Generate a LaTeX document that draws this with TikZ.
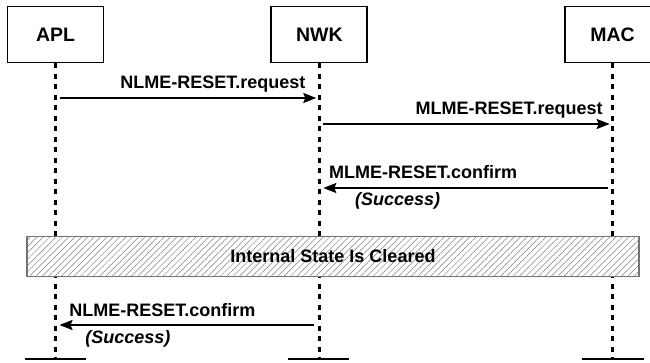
\documentclass[tikz,border=0pt]{standalone}
\usepackage{fontspec}
\setmainfont{Liberation Sans}
\usetikzlibrary{arrows.meta,positioning,patterns.meta}

\begin{document}
\begin{tikzpicture}[x=1pt,y=-1pt,
  node distance=166pt,
  layer/.style={draw,line width=1.8pt,minimum width=96pt,minimum height=56pt,
                inner sep=0pt,font=\bfseries\fontsize{19.5}{22}\selectfont},
  life/.style={line width=2.4pt,dash pattern=on 5pt off 5.5pt},
  msg/.style={line width=1.8pt,-{Stealth[length=13pt,width=10pt,inset=2pt]}},
  lab/.style={font=\bfseries\fontsize{18}{21}\selectfont,inner sep=0pt},
  res/.style={font=\bfseries\itshape\fontsize{18}{21}\selectfont,inner sep=0pt},
  cleared/.style={draw=black!55,line width=1.2pt,preaction={fill=white},
                  pattern={Lines[angle=45,distance=4.5pt,line width=0.5pt]},
                  pattern color=black!50,minimum width=612pt,minimum height=40pt,
                  font=\bfseries\fontsize{18}{21}\selectfont},
  ground/.style={line width=2.6pt}]
\useasboundingbox (0,0) rectangle (650,363);
% layers
\node[layer] (apl) at (55.5,34.5) {APL};
\node[layer,right=166pt of apl] (nwk) {NWK};
\node[layer,right=195.5pt of nwk] (mac) {MAC};
% rows
\coordinate (floor) at (0,359);
\coordinate (row1) at (0,98);
\coordinate (row2) at (0,124);
\coordinate (row3) at (0,188);
\coordinate (row4) at (0,325);
% lifelines
\draw[life] (apl.south) -- (apl |- floor);
\draw[life] (nwk.south) -- (nwk |- floor);
\draw[life] (mac.south) -- (mac |- floor);
\draw[ground] ([xshift=-31pt]apl |- floor) -- ([xshift=30pt]apl |- floor);
\draw[ground] ([xshift=-31pt]nwk |- floor) -- ([xshift=30pt]nwk |- floor);
\draw[ground] ([xshift=-31pt]mac |- floor) -- ([xshift=31pt]mac |- floor);
% messages
\draw[msg] ([xshift=4pt]apl |- row1) -- ([xshift=-3pt]nwk |- row1)
  node[lab,pos=1,anchor=base east,xshift=-10pt,yshift=9pt] {NLME-RESET.request};
\draw[msg] ([xshift=4pt]nwk |- row2) -- ([xshift=-3pt]mac |- row2)
  node[lab,pos=1,anchor=base east,xshift=-6pt,yshift=9pt] {MLME-RESET.request};
\draw[msg] ([xshift=-5pt]mac |- row3) -- ([xshift=4pt]nwk |- row3)
  node[lab,pos=1,anchor=base west,xshift=5pt,yshift=9pt] {MLME-RESET.confirm}
  node[res,pos=1,anchor=base west,xshift=31pt,yshift=-18pt] {(Success)};
\node[cleared] (state) at (333,256.5) {Internal State Is Cleared};
\draw[msg] ([xshift=-5pt]nwk |- row4) -- ([xshift=4pt]apl |- row4)
  node[lab,pos=1,anchor=base west,xshift=9pt,yshift=9pt] {NLME-RESET.confirm}
  node[res,pos=1,anchor=base west,xshift=25pt,yshift=-18pt] {(Success)};
\end{tikzpicture}
\end{document}
